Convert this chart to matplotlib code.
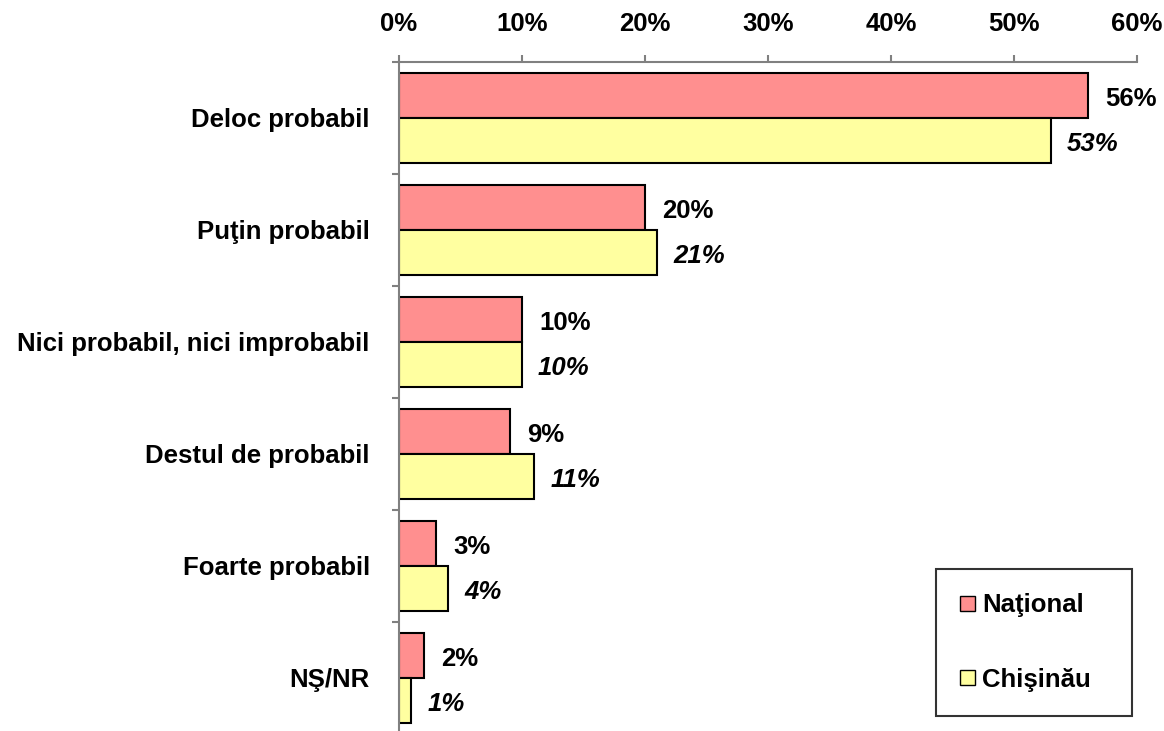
import numpy as np
import matplotlib.pyplot as plt
from matplotlib.patches import Patch

# date
categorii = ["Deloc probabil", "Puţin probabil", "Nici probabil, nici improbabil",
             "Destul de probabil", "Foarte probabil", "NŞ/NR"]
national = [56, 20, 10, 9, 3, 2]
chisinau = [53, 21, 10, 11, 4, 1]
serii = ["Naţional", "Chişinău"]

plt.rcParams['font.family'] = ['Liberation Sans', 'DejaVu Sans']

col_nat = "#FF8F8F"
col_chi = "#FFFFA0"
gri = "#808080"
fs = 18.5

fig = plt.figure(figsize=(11.64, 7.31), dpi=100)
ax = fig.add_axes([399/1164, 1 - 734/731, (1137-399)/1164, (734-62)/731])

y = np.arange(len(categorii))
h = 0.4
ax.barh(y - h/2, national, height=h, color=col_nat, edgecolor="black", linewidth=1.5)
ax.barh(y + h/2, chisinau, height=h, color=col_chi, edgecolor="black", linewidth=1.5)

for i in range(len(categorii)):
    ax.text(national[i] + 1.4, y[i] - h/2 + 0.03, f"{national[i]}%", va="center", ha="left",
            fontsize=fs, fontweight="bold")
    ax.text(chisinau[i] + 1.3, y[i] + h/2 + 0.03, f"{chisinau[i]}%", va="center", ha="left",
            fontsize=fs, fontweight="bold", style="italic")

ax.set_xlim(0, 60)
ax.set_ylim(len(categorii) - 0.5, -0.5)
ax.xaxis.tick_top()
ax.set_xticks(np.arange(0, 61, 10))
ax.set_xticklabels([f"{v}%" for v in range(0, 61, 10)], fontsize=fs, fontweight="bold")
ax.tick_params(axis="x", direction="out", length=5, width=1.5, color=gri, pad=14)

ax.set_yticks(y)
ax.set_yticklabels(categorii, fontsize=fs, fontweight="bold")
ax.tick_params(axis="y", which="major", length=0, pad=21)
ax.set_yticks(np.arange(-0.5, len(categorii), 1), minor=True)
ax.tick_params(axis="y", which="minor", direction="out", length=5, width=1.5, color=gri)

for s in ["right", "bottom"]:
    ax.spines[s].set_visible(False)
for s in ["top", "left"]:
    ax.spines[s].set_color(gri)
    ax.spines[s].set_linewidth(1.5)

handles = [Patch(facecolor=col_nat, edgecolor="black"), Patch(facecolor=col_chi, edgecolor="black")]
leg = fig.legend(handles, serii, loc="lower left",
                 bbox_to_anchor=(936/1164, 1 - 716/731, (1132-936)/1164, (716-571)/731),
                 mode="expand", prop={"weight": "bold", "size": fs},
                 frameon=True, fancybox=False, handlelength=0.55, handleheight=0.55,
                 handletextpad=0.3, labelspacing=1.95, borderpad=0.95, borderaxespad=0)
leg.get_frame().set_edgecolor("black")
leg.get_frame().set_linewidth(1.5)

fig.savefig("out.png", dpi=100)
